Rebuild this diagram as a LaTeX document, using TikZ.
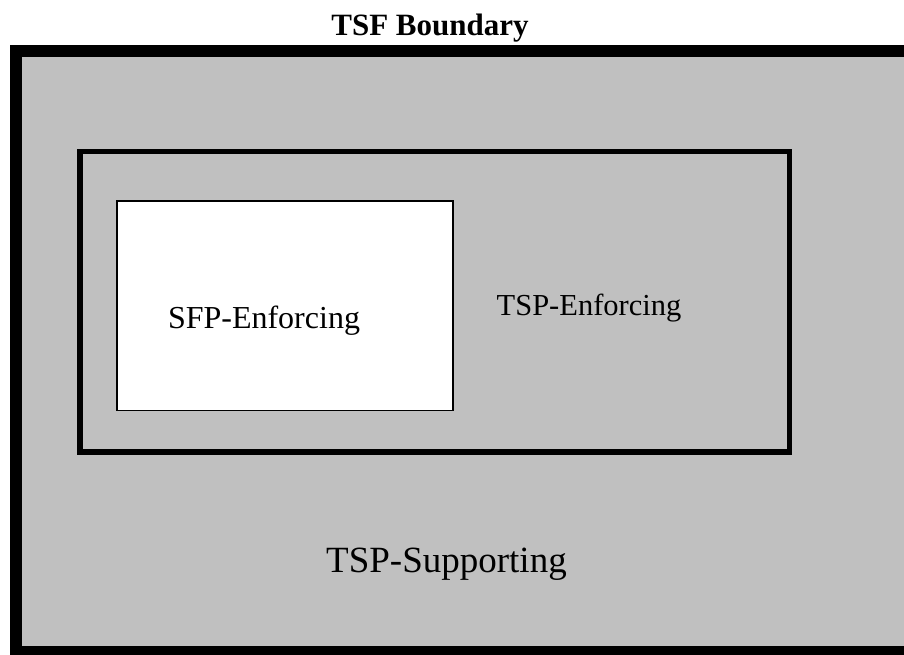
\documentclass[tikz,border=0pt]{standalone}
\usepackage{fontspec}
\setmainfont{Liberation Serif}
\usetikzlibrary{positioning}

\definecolor{silvergray}{RGB}{192,192,192}

\begin{document}
\begin{tikzpicture}[x=1pt, y=-1pt,
    region/.style={
        rectangle,
        draw=black,
        inner sep=0pt,
        outer sep=0pt
    },
    supportbox/.style={
        region,
        fill=silvergray,
        line width=11.5pt
    },
    enforcebox/.style={
        region,
        fill=silvergray,
        line width=5.5pt
    },
    sfpbox/.style={
        region,
        fill=white,
        line width=1.5pt
    },
    label/.style={
        font=\fontsize{30.5}{36}\selectfont,
        anchor=base,
        inner sep=0pt
    },
    title/.style={
        font=\bfseries\fontsize{31}{37}\selectfont,
        anchor=base,
        inner sep=0pt
    }
]
\useasboundingbox (0,0) rectangle (904,654);

% ===== Boxes =====
\node[supportbox, minimum width=904pt, minimum height=601pt] (supp) at (468,351.5) {};
\node[enforcebox, minimum width=709.5pt, minimum height=300.5pt] (tspe) at (434.75,301.75) {};
\node[sfpbox, minimum width=336pt, minimum height=209.5pt] (sfpe) at (285,305.75) {};

% ===== Labels =====
\node[title] (tsf) at (430,35) {TSF Boundary};
\node[label, font=\fontsize{32}{38}\selectfont] (sfplabel) at (264,328) {SFP-Enforcing};
\node[label] (tspelabel) at (589,315) {TSP-Enforcing};
\node[label, font=\fontsize{37}{44}\selectfont] (tspslabel) at (446.5,572) {TSP-Supporting};

\end{tikzpicture}
\end{document}
